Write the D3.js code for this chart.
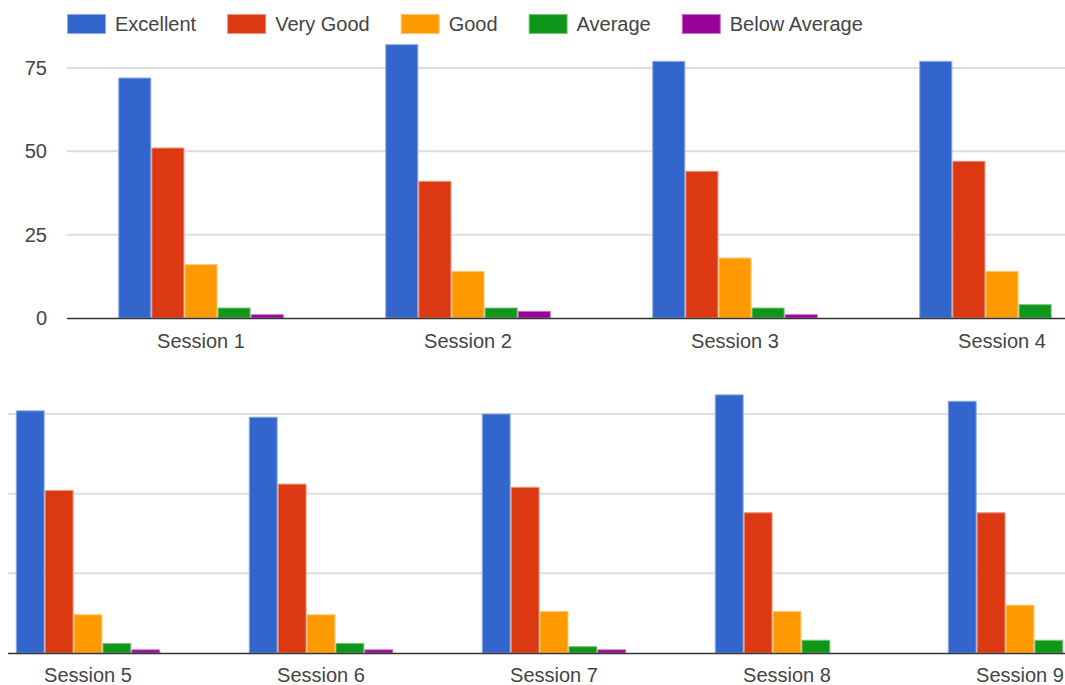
<!DOCTYPE html>
<html>
<head>
<meta charset="utf-8">
<script src="https://cdn.jsdelivr.net/npm/d3@7"></script>
<style>
  html, body { margin: 0; padding: 0; background: #fff; }
  svg { display: block; font-family: "Liberation Sans", Arial, sans-serif; }
</style>
</head>
<body>
<div id="chart"></div>
<script>
const sessions = ['Session 1', 'Session 2', 'Session 3', 'Session 4', 'Session 5',
  'Session 6', 'Session 7', 'Session 8', 'Session 9'];
const ratings = ['Excellent', 'Very Good', 'Good', 'Average', 'Below Average'];
const excellent = [72, 82, 77, 77, 76, 74, 75, 81, 79];
const veryGood = [51, 41, 44, 47, 51, 53, 52, 44, 44];
const good = [16, 14, 18, 14, 12, 12, 13, 13, 15];
const average = [3, 3, 3, 4, 3, 3, 2, 4, 4];
const belowAverage = [1, 2, 1, 0, 1, 1, 1, 0, 0];
const yTicks = [0, 25, 50, 75];

const colors = ['#3366cc', '#dc3912', '#ff9900', '#109618', '#990099'];
const seriesValues = [excellent, veryGood, good, average, belowAverage];

const width = 1065;
const height = 685;
const fontSize = 20;

const svg = d3.select('#chart').append('svg')
  .attr('width', width)
  .attr('height', height);

const color = d3.scaleOrdinal().domain(ratings).range(colors);
const edge = c => d3.interpolateRgb(c, '#fff')(0.45);

// legend
const legend = svg.append('g').attr('transform', 'translate(67,24)');
let lx = 0;
ratings.forEach(r => {
  const item = legend.append('g').attr('transform', `translate(${lx},0)`);
  item.append('rect')
    .attr('x', 0.5).attr('y', -9.5)
    .attr('width', 38).attr('height', 19)
    .attr('fill', color(r))
    .attr('stroke', edge(color(r)));
  const t = item.append('text')
    .attr('x', 48).attr('dy', '0.35em')
    .attr('font-size', fontSize)
    .attr('fill', '#444')
    .text(r);
  lx += 48 + t.node().getComputedTextLength() + 31;
});

// two panels, as in the screenshot
const panels = [
  { items: sessions.slice(0, 4), from: 0, x0: 67.5, step: 267, y0: 318, y75: 68,
    gridLeft: 67, labels: true, labelY: 341 },
  { items: sessions.slice(4), from: 4, x0: -28.5, step: 233, y0: 653, y75: 414,
    gridLeft: 8, labels: false, labelY: 675 }
];

panels.forEach(p => {
  const g = svg.append('g');

  const x = d3.scaleBand()
    .domain(p.items)
    .range([p.x0, p.x0 + p.step * p.items.length])
    .paddingInner(0.38)
    .paddingOuter(0.19);

  const xs = d3.scaleBand().domain(ratings).range([0, x.bandwidth()]);

  const y = d3.scaleLinear().domain([0, 75]).range([p.y0, p.y75]);

  // gridlines
  g.append('g')
    .selectAll('line')
    .data(yTicks.filter(d => d > 0))
    .join('line')
    .attr('x1', p.gridLeft).attr('x2', width)
    .attr('y1', d => y(d)).attr('y2', d => y(d))
    .attr('stroke', '#ddd')
    .attr('stroke-width', 2);

  if (p.labels) {
    const yAxis = d3.axisLeft(y).tickValues(yTicks).tickSize(0).tickPadding(0);
    g.append('g')
      .attr('transform', 'translate(47,0)')
      .call(yAxis)
      .call(a => a.select('.domain').remove())
      .call(a => a.selectAll('text')
        .attr('font-size', fontSize)
        .attr('font-family', null)
        .attr('fill', '#444'));
  }

  const rows = p.items.map((s, i) => ({
    session: s,
    values: ratings.map((r, k) => ({ rating: r, value: seriesValues[k][p.from + i] }))
  }));

  const groups = g.append('g')
    .selectAll('g')
    .data(rows)
    .join('g')
    .attr('transform', d => `translate(${x(d.session)},0)`);

  groups.selectAll('rect')
    .data(d => d.values)
    .join('rect')
    .attr('x', d => xs(d.rating) + 0.5)
    .attr('y', d => y(d.value))
    .attr('width', xs.bandwidth() - 1)
    .attr('height', d => y(0) - y(d.value))
    .attr('fill', d => color(d.rating))
    .attr('stroke', d => edge(color(d.rating)))
    .attr('stroke-width', 1);

  // baseline
  g.append('line')
    .attr('x1', p.gridLeft).attr('x2', width)
    .attr('y1', y(0) + 0.5).attr('y2', y(0) + 0.5)
    .attr('stroke', '#333')
    .attr('stroke-width', 1.5);

  const xAxis = d3.axisBottom(x).tickSize(0).tickPadding(0);
  g.append('g')
    .attr('transform', `translate(0,${p.labelY})`)
    .call(xAxis)
    .call(a => a.select('.domain').remove())
    .call(a => a.selectAll('text')
      .attr('dy', '0.35em')
      .attr('font-size', fontSize)
      .attr('font-family', null)
      .attr('fill', '#444'));
});
</script>
</body>
</html>
